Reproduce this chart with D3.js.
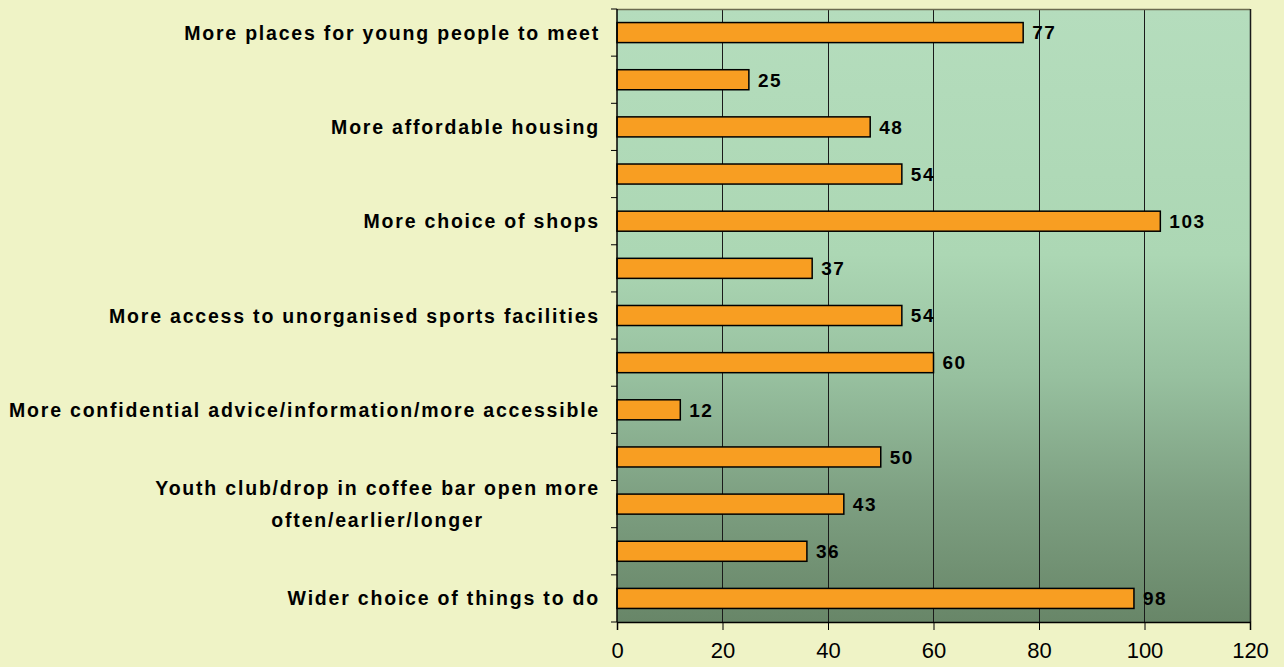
<!DOCTYPE html>
<html>
<head>
<meta charset="utf-8">
<script src="https://cdn.jsdelivr.net/npm/d3@7"></script>
<style>
  html, body { margin: 0; padding: 0; background: #eff3c6; }
  svg { display: block; }
</style>
</head>
<body>
<svg id="chart" width="1284" height="667"></svg>
<script>
const categories = [
  "More places for young people to meet",
  "",
  "More affordable housing",
  "",
  "More choice of shops",
  "",
  "More access to unorganised sports facilities",
  "",
  "More confidential advice/information/more accessible",
  "",
  "Youth club/drop in coffee bar open more\noften/earlier/longer",
  "",
  "Wider choice of things to do"
];
const values = [77, 25, 48, 54, 103, 37, 54, 60, 12, 50, 43, 36, 98];
const xTicks = [0, 20, 40, 60, 80, 100, 120];

const W = 1284, H = 667;
const m = { left: 617, right: 34, top: 9, bottom: 45 };
const svg = d3.select("#chart");
const pw = W - m.left - m.right, ph = H - m.top - m.bottom;

const x = d3.scaleLinear().domain([0, 120]).range([m.left, m.left + pw]);
const y = d3.scaleBand().domain(d3.range(categories.length)).range([m.top, m.top + ph]).paddingInner(0.575).paddingOuter(0.2875);

const defs = svg.append("defs");
const grad = defs.append("linearGradient").attr("id", "bg").attr("x1", 0).attr("y1", 0).attr("x2", 0).attr("y2", 1);
[[0, "#b5ddbd"], [0.4, "#acd7b4"], [0.6, "#97c09f"], [0.8, "#7d9f81"], [1, "#688668"]].forEach(([o, c]) =>
  grad.append("stop").attr("offset", o).attr("stop-color", c));

svg.append("rect").attr("x", m.left).attr("y", m.top).attr("width", pw).attr("height", ph)
  .attr("fill", "url(#bg)");

// gridlines
svg.append("g").selectAll("line").data(xTicks.slice(1, -1)).join("line")
  .attr("x1", d => x(d)).attr("x2", d => x(d))
  .attr("y1", m.top).attr("y2", m.top + ph)
  .attr("stroke", "#1a1a1a").attr("stroke-width", 1).attr("shape-rendering", "crispEdges");

// border
svg.append("line").attr("x1", m.left).attr("x2", m.left + pw).attr("y1", m.top + 0.5).attr("y2", m.top + 0.5)
  .attr("stroke", "#6b6b50").attr("stroke-width", 1.5);
svg.append("line").attr("x1", m.left + pw + 0.5).attr("x2", m.left + pw + 0.5).attr("y1", m.top).attr("y2", m.top + ph)
  .attr("stroke", "#1a1a1a").attr("stroke-width", 1.5);

// bars
svg.append("g").selectAll("rect").data(values).join("rect")
  .attr("x", x(0)).attr("y", (d, i) => y(i))
  .attr("width", d => x(d) - x(0)).attr("height", y.bandwidth())
  .attr("fill", "#f89e22").attr("stroke", "#000").attr("stroke-width", 1.5);

// value labels
svg.append("g").selectAll("text").data(values).join("text")
  .attr("x", d => x(d) + 9).attr("y", (d, i) => y(i) + y.bandwidth() / 2)
  .attr("dy", "0.36em")
  .attr("font-family", "Liberation Sans, Arial, sans-serif")
  .attr("font-weight", "bold").attr("font-size", 19).attr("letter-spacing", 1.5)
  .attr("fill", "#000").text(d => d);

// y axis
const yAxisG = svg.append("g");
yAxisG.append("line").attr("x1", m.left).attr("x2", m.left).attr("y1", m.top).attr("y2", m.top + ph)
  .attr("stroke", "#000").attr("stroke-width", 1.5);
const bounds = d3.range(categories.length + 1).map(i => m.top + ph * i / categories.length);
yAxisG.selectAll("line.tk").data(bounds).join("line").attr("class", "tk")
  .attr("x1", m.left - 6).attr("x2", m.left).attr("y1", d => d).attr("y2", d => d)
  .attr("stroke", "#000").attr("stroke-width", 1);

// category labels
const lab = yAxisG.selectAll("text").data(categories).join("text")
  .attr("font-family", "Liberation Sans, Arial, sans-serif")
  .attr("font-weight", "bold").attr("font-size", 19.5).attr("letter-spacing", 1.8)
  .attr("fill", "#000").attr("text-anchor", "end");
lab.each(function(d, i) {
  const lines = d.split("\n");
  const t = d3.select(this);
  const cy = y(i) + y.bandwidth() / 2;
  if (lines.length === 1) {
    t.attr("x", m.left - 17).attr("y", cy).attr("dy", "0.36em").text(d);
  } else {
    t.attr("text-anchor", "middle");
    lines.forEach((ln, k) => {
      t.append("tspan").attr("y", cy + (k - (lines.length - 1) / 2) * 32).attr("dy", "0.36em").text(ln);
    });
    const widths = [];
    t.selectAll("tspan").each(function() { widths.push(this.getComputedTextLength()); });
    const maxW = d3.max(widths);
    const cx = m.left - 17 - maxW / 2;
    t.selectAll("tspan").attr("x", cx);
  }
});

// x axis
const xAxis = d3.axisBottom(x).tickValues(xTicks).tickSize(8).tickPadding(12).tickFormat(d3.format("d"));
const xg = svg.append("g").attr("transform", `translate(0,${m.top + ph})`).call(xAxis);
xg.select(".domain").attr("stroke", "#000").attr("stroke-width", 1.5);
xg.selectAll(".tick line").attr("stroke", "#000");
xg.selectAll(".tick text").attr("font-family", "Liberation Sans, Arial, sans-serif")
  .attr("font-size", 22).attr("fill", "#000");
</script>
</body>
</html>
